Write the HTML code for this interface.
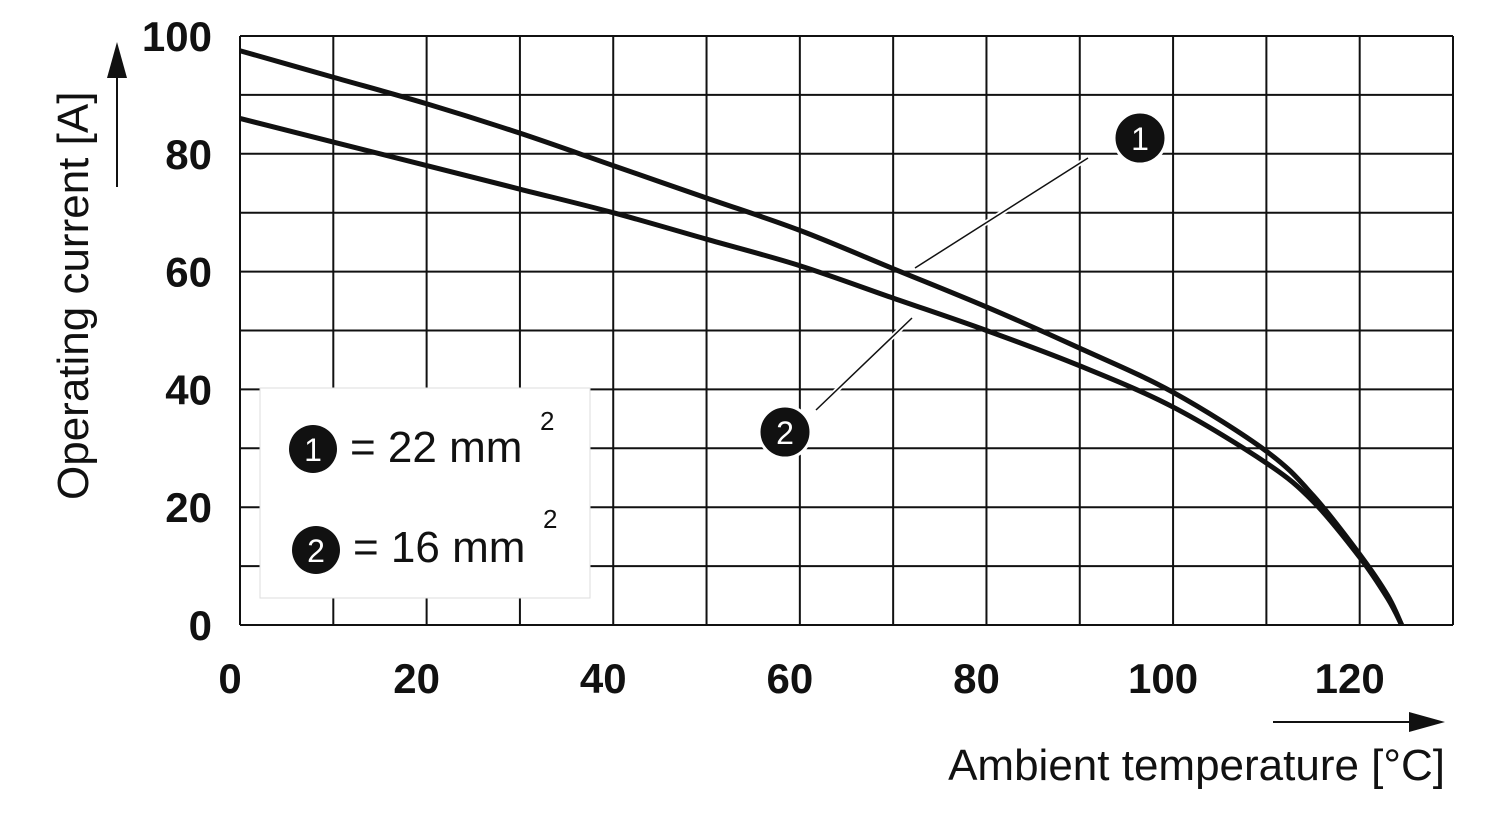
<!DOCTYPE html>
<html><head><meta charset="utf-8"><style>
body{margin:0;background:#fff}
svg{display:block;font-family:"Liberation Sans",Arial,sans-serif}
</style></head><body>
<svg id="chart" width="1500" height="820" viewBox="0 0 1500 820">
<g id="grid"></g>
<g id="ticks"></g>
<g id="curves"></g>
<g>
<text x="88" y="500" font-size="44" transform="rotate(-90 88 500)" fill="#111">Operating current [A]</text>
<line x1="117" y1="187" x2="117" y2="70" stroke="#111" stroke-width="2"/>
<polygon points="117,42 107,78 127,78" fill="#111"/>
</g>
<g>
<text x="1445" y="780" font-size="44" text-anchor="end" fill="#111">Ambient temperature [°C]</text>
<line x1="1273" y1="722" x2="1415" y2="722" stroke="#111" stroke-width="2"/>
<polygon points="1445,722 1409,712 1409,732" fill="#111"/>
</g>
<g>
<rect x="260" y="388" width="330" height="210" fill="#fff" stroke="#ddd" stroke-width="1"/>
<g>
<circle cx="313" cy="449" r="24" fill="#111"/><text x="313" y="461" font-size="32" fill="#fff" text-anchor="middle">1</text>
<text x="350" y="462" font-size="44" fill="#111">= 22 mm</text><text x="540" y="430" font-size="26" fill="#111">2</text>
</g>
<g>
<circle cx="316" cy="550" r="24" fill="#111"/><text x="316" y="562" font-size="32" fill="#fff" text-anchor="middle">2</text>
<text x="353" y="562" font-size="44" fill="#111">= 16 mm</text><text x="543" y="528" font-size="26" fill="#111">2</text>
</g>
</g>
<g>
<line x1="1088" y1="158" x2="915" y2="268" stroke="#fff" stroke-width="5"/>
<line x1="1088" y1="158" x2="915" y2="268" stroke="#111" stroke-width="1.5"/>
<circle cx="1140" cy="138" r="26" fill="#111" stroke="#fff" stroke-width="3"/>
<text x="1140" y="150" font-size="32" fill="#fff" text-anchor="middle">1</text>
</g>
<g>
<line x1="816" y1="410" x2="912" y2="318" stroke="#fff" stroke-width="5"/>
<line x1="816" y1="410" x2="912" y2="318" stroke="#111" stroke-width="1.5"/>
<circle cx="785" cy="432" r="26" fill="#111" stroke="#fff" stroke-width="3"/>
<text x="785" y="444" font-size="32" fill="#fff" text-anchor="middle">2</text>
</g>
</svg>
<script>
const xTicks=[0,20,40,60,80,100,120];
const yTicks=[0,20,40,60,80,100];
const temps1=[0,10,20,30,40,50,60,70,80,90,100,110,115,120,123,124.5];
const current1=[97.5,93,88.5,83.5,78,72.5,67,60.5,54,47,39.5,29.5,22,12,5,0];
const temps2=[0,10,20,30,40,50,60,70,80,90,100,110,115,120,123,124.5];
const current2=[86,82,78,74,70,65.5,61,55.5,50,44,37,27.5,21,11.5,4.5,0];
const X0=240,X1=1453,XMAX=130,Y0=625,Y1=36,YMAX=100;
const sx=v=>X0+(X1-X0)*v/XMAX, sy=v=>Y0-(Y0-Y1)*v/YMAX;
const NS="http://www.w3.org/2000/svg";
function mk(t,a,p){const e=document.createElementNS(NS,t);for(const k in a)e.setAttribute(k,a[k]);p.appendChild(e);return e;}
const grid=document.getElementById('grid');
for(let v=0;v<=XMAX;v+=10){const l=mk('line',{x1:sx(v),x2:sx(v),y1:Y1,y2:Y0,stroke:'#111','stroke-width':2},grid);

}
for(let v=0;v<=YMAX;v+=10){const l=mk('line',{x1:X0,x2:X1,y1:sy(v),y2:sy(v),stroke:'#111','stroke-width':2},grid);

}
const tk=document.getElementById('ticks');
xTicks.forEach(v=>{const t=mk('text',{x:sx(v)-10,y:693,'font-size':42,'font-weight':'bold','text-anchor':'middle',fill:'#111'},tk);t.textContent=v;

});
yTicks.forEach(v=>{const t=mk('text',{x:212,y:sy(v)+15,'font-size':42,'font-weight':'bold','text-anchor':'end',fill:'#111'},tk);t.textContent=v;

});
function path(xs,ys){const p=xs.map((x,i)=>[sx(x),sy(ys[i])]);let d='M'+p[0];
for(let i=0;i<p.length-1;i++){const a=p[i-1]||p[i],b=p[i],c=p[i+1],e=p[i+2]||c;
d+=` C${b[0]+(c[0]-a[0])/6},${b[1]+(c[1]-a[1])/6} ${c[0]-(e[0]-b[0])/6},${c[1]-(e[1]-b[1])/6} ${c[0]},${c[1]}`;}return d;}
const cv=document.getElementById('curves');
const c1=mk('path',{d:path(temps1,current1),fill:'none',stroke:'#111','stroke-width':5},cv);


const c2=mk('path',{d:path(temps2,current2),fill:'none',stroke:'#111','stroke-width':5},cv);


</script>
</body></html>
